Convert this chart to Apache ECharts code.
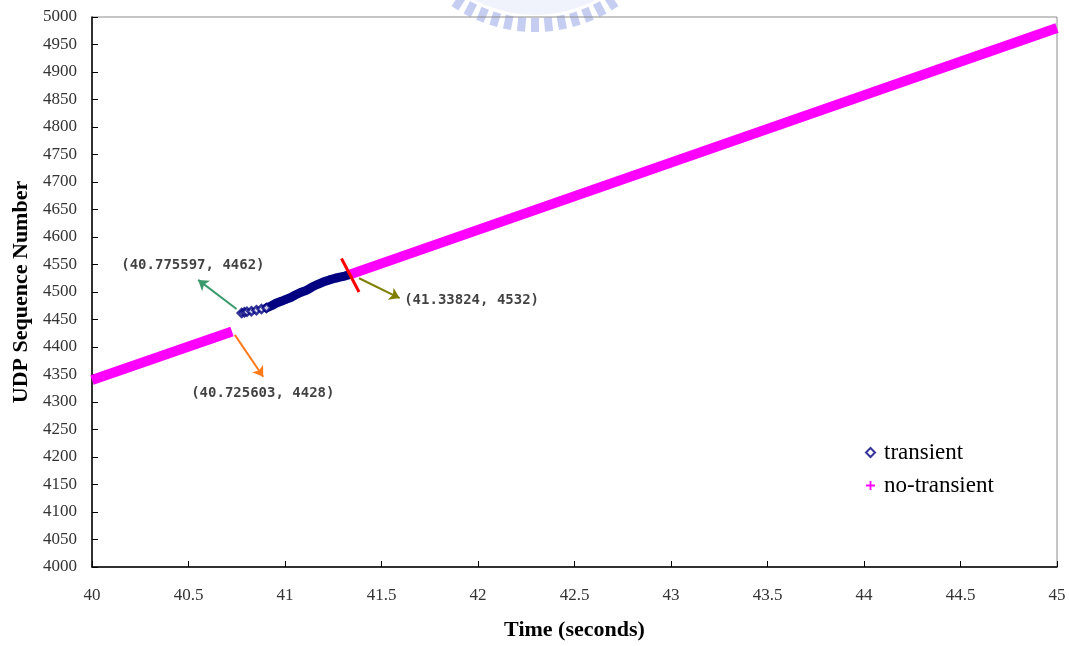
<!DOCTYPE html>
<html>
<head>
<meta charset="utf-8">
<script src="https://cdn.jsdelivr.net/npm/echarts@6/dist/echarts.min.js"></script>
<style>
  html, body { margin: 0; padding: 0; background: #fff; }
  #chart { width: 1069px; height: 646px; }
</style>
</head>
<body>
<div id="chart"></div>
<script>
// Axis ranges and ticks
const timeTicks = { min: 40, max: 45, step: 0.5 };
const seqTicks = { min: 4000, max: 5000, step: 50 };

// Packets received on the old path, before and after the handoff gap
const noTransientBefore = [[40, 4340], [40.725603, 4428]];
const noTransientAfter = [[41.33824, 4532], [45, 4980]];

// Transient packets: first few arrive sparsely, then densely
const transientSparse = [
  [40.775597, 4462], [40.790, 4463], [40.803, 4464], [40.826, 4465],
  [40.852, 4467], [40.878, 4469], [40.904, 4471]
];
const transientDense = [
  [40.904, 4471], [40.930, 4475], [40.956, 4480], [40.980, 4483],
  [41.008, 4487], [41.030, 4490], [41.051, 4494], [41.080, 4499],
  [41.111, 4503], [41.140, 4509], [41.170, 4514], [41.197, 4518],
  [41.230, 4522], [41.260, 4525], [41.284, 4527], [41.310, 4529],
  [41.33824, 4532]
];

// Cut marker across the end of the transient period
const cutMarker = [[41.2925, 4561], [41.3836, 4500]];

// Callouts: label anchor, arrow tail, arrow head, colour, and the point they name
const callouts = [
  { point: transientSparse[0], anchor: [40.5228, 4549], tail: [40.749, 4469], head: [40.550, 4522], color: '#3a9a6c' },
  { point: noTransientAfter[0], anchor: [41.9669, 4484], tail: [41.384, 4525], head: [41.594, 4489], color: '#808000' },
  { point: noTransientBefore[1], anchor: [40.885, 4315], tail: [40.740, 4422], head: [40.887, 4346], color: '#ff7a1a' }
];

const serif = '"Liberation Serif", "Times New Roman", serif';

// Faint seal watermark at the top edge
const sealCx = 535, sealCy = -115;
const watermark = [{
  type: 'ring', z: -10, silent: true,
  shape: { cx: sealCx, cy: sealCy, r: 130, r0: 112 },
  style: { fill: '#e6ebfa', opacity: 0.6 }
}];
for (let a = -33; a <= 33.1; a += 5.5) {
  const t = a * Math.PI / 180;
  const r = 140;
  watermark.push({
    type: 'rect', z: -10, silent: true,
    x: sealCx + r * Math.sin(t), y: sealCy + r * Math.cos(t),
    rotation: t,
    shape: { x: -4, y: -7, width: 8, height: 14 },
    style: { fill: '#9eaee8', opacity: 0.6 }
  });
}

const chart = echarts.init(document.getElementById('chart'), null, { renderer: 'canvas' });

chart.setOption({
  animation: false,
  backgroundColor: '#fff',
  graphic: watermark,
  grid: {
    left: 92, right: 12, top: 17, bottom: 77,
    show: true, borderColor: '#8c8c8c', borderWidth: 1, backgroundColor: 'transparent'
  },
  legend: {
    orient: 'vertical',
    left: 860, top: 436,
    itemGap: 10,
    itemWidth: 9, itemHeight: 9,
    textStyle: { fontFamily: serif, fontSize: 23, color: '#000', padding: [0, 0, 0, 4] },
    data: [
      { name: 'transient', icon: 'diamond' },
      { name: 'no-transient', icon: 'path://M4,0L6,0L6,4L10,4L10,6L6,6L6,10L4,10L4,6L0,6L0,4L4,4Z' }
    ]
  },
  xAxis: {
    type: 'value',
    min: timeTicks.min, max: timeTicks.max, interval: timeTicks.step,
    name: 'Time (seconds)',
    nameLocation: 'middle', nameGap: 52,
    nameTextStyle: { fontFamily: serif, fontSize: 22, fontWeight: 'bold', color: '#000' },
    axisLine: { show: true, lineStyle: { color: '#000', width: 1.5 } },
    axisTick: { show: true, inside: true, length: 6, lineStyle: { color: '#000' } },
    axisLabel: { margin: 20, fontFamily: serif, fontSize: 17, color: '#333' },
    splitLine: { show: false }
  },
  yAxis: {
    type: 'value',
    min: seqTicks.min, max: seqTicks.max, interval: seqTicks.step,
    name: 'UDP Sequence Number',
    nameLocation: 'middle', nameGap: 56,
    nameTextStyle: { fontFamily: serif, fontSize: 22, fontWeight: 'bold', color: '#000' },
    axisLine: { show: true, lineStyle: { color: '#000', width: 1.5 } },
    axisTick: { show: true, inside: true, length: 6, lineStyle: { color: '#000' } },
    axisLabel: { margin: 15, fontFamily: serif, fontSize: 17, color: '#333', formatter: v => String(v) },
    splitLine: { show: false }
  },
  series: [
    {
      name: 'transient', type: 'scatter', z: 4,
      symbol: 'diamond', symbolSize: 8,
      itemStyle: { color: '#ffffff', borderColor: '#000080', borderWidth: 2.5 },
      data: transientSparse
    },
    {
      name: 'transient', type: 'line', z: 3,
      showSymbol: false, symbol: 'none',
      lineStyle: { color: '#000080', width: 9, cap: 'round' },
      itemStyle: { color: '#000080' },
      data: transientDense
    },
    {
      name: 'no-transient', type: 'line', z: 5,
      showSymbol: false, symbol: 'none',
      lineStyle: { color: '#ff00ff', width: 10 },
      itemStyle: { color: '#ff00ff' },
      data: noTransientBefore
    },
    {
      name: 'no-transient', type: 'line', z: 5,
      showSymbol: false, symbol: 'none',
      lineStyle: { color: '#ff00ff', width: 10 },
      itemStyle: { color: '#ff00ff' },
      data: noTransientAfter
    },
    {
      name: 'cut', type: 'lines', coordinateSystem: 'cartesian2d', z: 7,
      silent: true,
      lineStyle: { color: '#ff0000', width: 3, opacity: 1 },
      data: [{ coords: cutMarker }]
    },
    {
      name: 'arrows', type: 'lines', coordinateSystem: 'cartesian2d', z: 7,
      silent: true,
      symbol: ['none', 'arrow'], symbolSize: 10,
      data: callouts.map(c => ({ coords: [c.tail, c.head], lineStyle: { color: c.color, width: 2, opacity: 1 } }))
    },
    {
      name: 'labels', type: 'scatter', z: 8,
      silent: true, symbolSize: 0,
      label: {
        show: true, position: 'inside',
        fontFamily: '"DejaVu Sans Mono", monospace', fontSize: 14, fontWeight: 'bold', color: '#111',
        formatter: p => '(' + p.data.point[0] + ', ' + p.data.point[1] + ')'
      },
      data: callouts.map(c => ({ value: c.anchor, point: c.point }))
    }
  ]
});
</script>
</body>
</html>
